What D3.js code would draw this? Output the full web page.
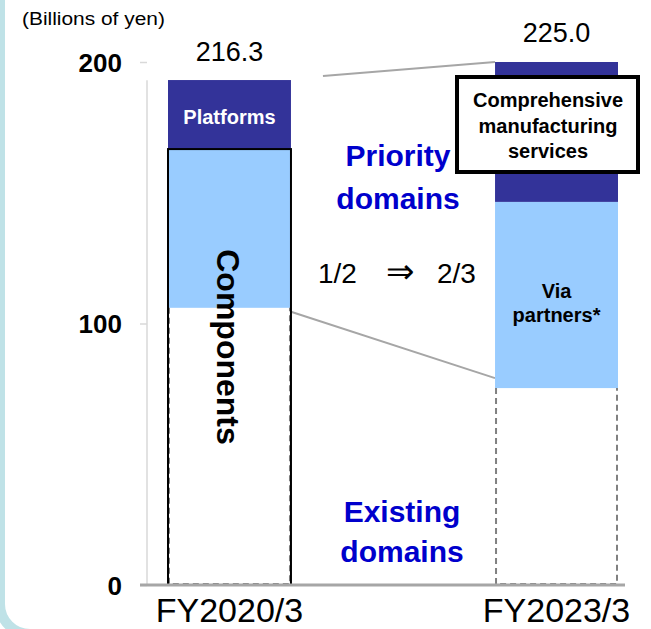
<!DOCTYPE html>
<html>
<head>
<meta charset="utf-8">
<script src="https://cdn.jsdelivr.net/npm/d3@7"></script>
<style>
  body { margin: 0; background: #fff; }
  text { font-family: "Liberation Sans", Arial, sans-serif; }
</style>
</head>
<body>
<div id="chart"></div>
<script>
var categories = ["FY2020/3", "FY2023/3"];
var existing   = [106.0, 75.3];
var priority   = [60.7, 71.2];
var platforms  = [26.4, 53.5];
var totals     = ["216.3", "225.0"];
var yTicks     = [0, 100, 200];

var width = 651, height = 629;

var svg = d3.select("#chart").append("svg")
    .attr("width", width)
    .attr("height", height);

// light teal frame on the left
svg.append("rect")
    .attr("x", 0).attr("y", -40)
    .attr("width", 700).attr("height", 674)
    .attr("rx", 30)
    .style("fill", "#fff")
    .style("stroke", "#bfe2e7")
    .style("stroke-width", 10);

var x = d3.scaleBand().domain(categories).range([168, 618]).paddingInner(0.624).paddingOuter(0);
var y = d3.scaleLinear().domain([0, 200]).range([585, 62]);

var table = categories.map(function(c, i) {
  return {cat: c, existing: existing[i], priority: priority[i], platforms: platforms[i]};
});
var series = d3.stack().keys(["existing", "priority", "platforms"])(table);
var colors = {existing: "#fff", priority: "#99ccff", platforms: "#333399"};

// y axis
var yAxis = d3.axisLeft(y).tickValues(yTicks).tickSize(7).tickFormat(d3.format("d"));
var gy = svg.append("g").attr("transform", "translate(147,0)").call(yAxis);
gy.select(".domain").attr("stroke", "#d9d9d9").attr("stroke-width", 1.5).attr("d", "M0," + y(0) + "V" + y(193));
gy.selectAll(".tick line").attr("stroke", "#d9d9d9").attr("stroke-width", 1.5);
gy.selectAll(".tick text")
    .attr("x", -25)
    .attr("dy", "0.36em")
    .style("font-size", "26px")
    .style("font-weight", "bold")
    .style("fill", "#000");

svg.append("text").attr("transform", "translate(22,25) scale(1.1,1)")
    .style("font-size", "19px").text("(Billions of yen)");

// connector lines
var b0 = x(categories[0]), b1 = x(categories[1]), bw = x.bandwidth();
svg.append("line")
    .attr("x1", b0 + bw + 32).attr("y1", y(d3.sum([existing[0], priority[0], platforms[0]])) - 4)
    .attr("x2", b1).attr("y2", y(d3.sum([existing[1], priority[1], platforms[1]])))
    .attr("stroke", "#a6a6a6").attr("stroke-width", 2);
svg.append("line")
    .attr("x1", b0 + bw).attr("y1", y(existing[0]) + 4)
    .attr("x2", b1).attr("y2", y(existing[1]) - 10)
    .attr("stroke", "#a6a6a6").attr("stroke-width", 2);

// stacked bars
series.forEach(function(s) {
  svg.selectAll(".bar-" + s.key)
     .data(s)
     .enter().append("rect")
     .attr("class", "bar-" + s.key)
     .attr("x", function(d) { return x(d.data.cat); })
     .attr("y", function(d) { return y(d[1]); })
     .attr("width", bw)
     .attr("height", function(d) { return y(d[0]) - y(d[1]); })
     .style("fill", colors[s.key]);
});

// dashed outline of the existing part (left, bottom, right)
svg.selectAll(".dash").data(series[0]).enter().append("path")
    .attr("class", "dash")
    .attr("d", function(d) {
      var p = d3.path(), x0 = x(d.data.cat) + 1, x1 = x0 + bw - 2;
      p.moveTo(x0, y(d[1]));
      p.lineTo(x0, y(d[0]) - 1);
      p.lineTo(x1, y(d[0]) - 1);
      p.lineTo(x1, y(d[1]));
      return p.toString();
    })
    .style("fill", "none").style("stroke", "#808080")
    .style("stroke-width", 2).style("stroke-dasharray", "6,4");

// "Components" outline on the first bar
svg.append("rect")
    .attr("x", b0).attr("y", y(existing[0] + priority[0]))
    .attr("width", bw).attr("height", y(0) - y(existing[0] + priority[0]))
    .style("fill", "none").style("stroke", "#000").style("stroke-width", 2);

// baseline
svg.append("line")
    .attr("x1", 140).attr("x2", 625)
    .attr("y1", y(0)).attr("y2", y(0))
    .attr("stroke", "#a6a6a6").attr("stroke-width", 3);

// x labels
svg.selectAll(".xlab").data(categories).enter().append("text")
    .attr("class", "xlab")
    .attr("x", function(d) { return x(d) + bw / 2; })
    .attr("y", 622)
    .attr("text-anchor", "middle")
    .style("font-size", "34px")
    .text(function(d) { return d; });

// totals
svg.selectAll(".total").data(totals).enter().append("text")
    .attr("class", "total")
    .attr("x", function(d, i) { return x(categories[i]) + bw / 2; })
    .attr("y", function(d, i) { return i === 0 ? 61 : 42; })
    .attr("text-anchor", "middle")
    .style("font-size", "27px")
    .text(function(d) { return d; });

// labels inside bars
svg.append("text").attr("x", b0 + bw / 2).attr("y", y(193) + 44)
    .attr("text-anchor", "middle")
    .style("font-size", "20px").style("font-weight", "bold").style("fill", "#fff")
    .text("Platforms");

svg.append("text")
    .attr("transform", "translate(" + (b0 + bw / 2 - 12) + "," + 347 + ") rotate(90)")
    .attr("text-anchor", "middle")
    .style("font-size", "32px").style("font-weight", "bold")
    .text("Components");

var via = svg.append("text").attr("text-anchor", "middle")
    .style("font-size", "20px").style("font-weight", "bold");
via.append("tspan").attr("x", b1 + bw / 2).attr("y", 298).text("Via");
via.append("tspan").attr("x", b1 + bw / 2).attr("y", 322).text("partners*");

// comprehensive manufacturing services box
svg.append("rect")
    .attr("x", 457).attr("y", 77).attr("width", 181).attr("height", 95)
    .style("fill", "#fff").style("stroke", "#000").style("stroke-width", 4);
var cms = svg.append("text").attr("text-anchor", "middle")
    .style("font-size", "20px").style("font-weight", "bold");
[["Comprehensive", 107], ["manufacturing", 133], ["services", 158]].forEach(function(l) {
  cms.append("tspan").attr("x", 548).attr("y", l[1]).text(l[0]);
});

// domain labels
function blueLabel(lines, cx, ys) {
  var t = svg.append("text").attr("text-anchor", "middle")
      .style("font-size", "30px").style("font-weight", "bold").style("fill", "#0000cc");
  lines.forEach(function(s, i) {
    t.append("tspan").attr("x", cx).attr("y", ys[i]).text(s);
  });
}
blueLabel(["Priority", "domains"], 398, [166, 209]);
blueLabel(["Existing", "domains"], 402, [522, 562]);

svg.append("text").attr("x", 318).attr("y", 283).style("font-size", "28px").text("1/2");
svg.append("text").attr("x", 400).attr("y", 283).attr("text-anchor", "middle")
    .style("font-size", "34px").text("\u21d2");
svg.append("text").attr("x", 437).attr("y", 283).style("font-size", "28px").text("2/3");
</script>
</body>
</html>
